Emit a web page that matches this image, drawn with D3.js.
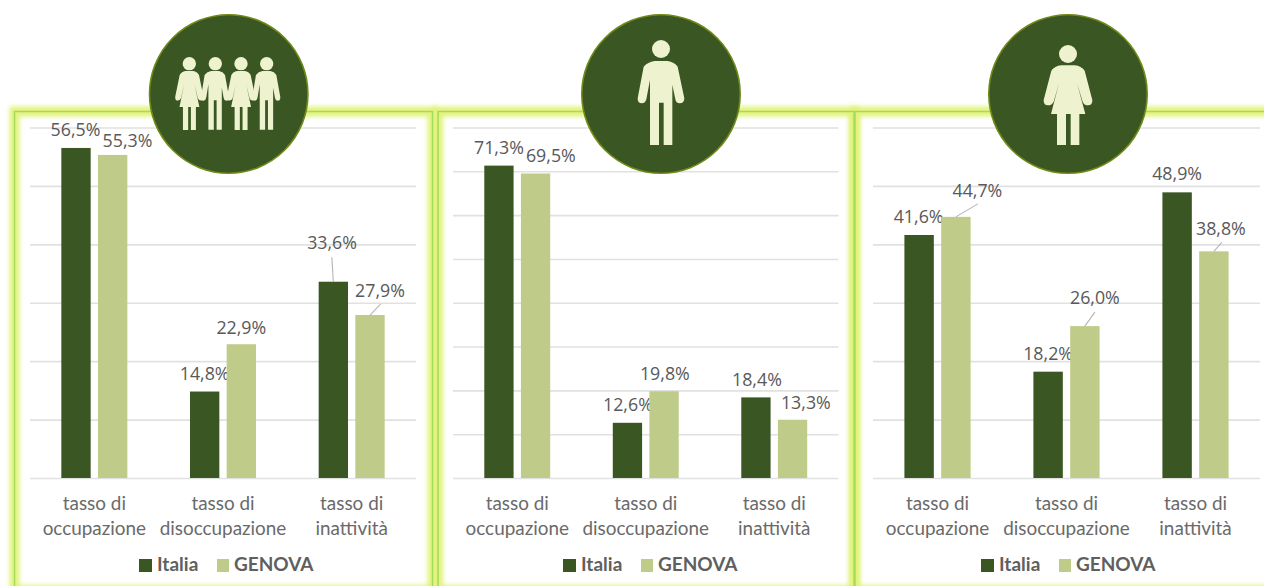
<!DOCTYPE html>
<html><head><meta charset="utf-8">
<script src="https://cdn.jsdelivr.net/npm/d3@7/dist/d3.min.js"></script>
<style>html,body{margin:0;padding:0;background:#fff;overflow:hidden}svg{display:block}</style>
</head><body><svg id="c" width="1264" height="586"></svg>
<script>
const categories = [["tasso di","occupazione"],["tasso di","disoccupazione"],["tasso di","inattività"]];
const seriesNames = ["Italia","GENOVA"];
const italiaTotale = [56.5,14.8,33.6], genovaTotale = [55.3,22.9,27.9];
const italiaMaschi = [71.3,12.6,18.4], genovaMaschi = [69.5,19.8,13.3];
const italiaFemmine = [41.6,18.2,48.9], genovaFemmine = [44.7,26.0,38.8];
const colors = ["#3a5623","#bfcb88"];

// layout only: label offsets from each bar's top centre, [dx,dy] per category per series
const panels = [
 {x0:30,x1:416,max:60,step:10,a:italiaTotale,b:genovaTotale,cx:228.7,icon:"group",legend:139,
  off:[[[-.5,-11.7],[14.8,-7.7]],[[0,-11.2],[0,-10.7]],[[-1.3,-32.4],[10,-18]]]},
 {x0:453,x1:838.5,max:80,step:10,a:italiaMaschi,b:genovaMaschi,cx:661,icon:"man",legend:563,
  off:[[[0,-12],[15.3,-11.7]],[[.5,-11.4],[.8,-11.7]],[[1,-11],[13.3,-10.4]]]},
 {x0:873,x1:1260,max:60,step:10,a:italiaFemmine,b:genovaFemmine,cx:1068,icon:"woman",legend:981,
  off:[[[-.5,-11.7],[21.5,-19.7]],[[0,-11.4],[10,-21.7]],[[0,-12],[7,-16.7]]]}
];
const leaders = [
 [[null,null],[null,null],[[-1.5,-24.5],[10.5,-11]]],
 [[null,null],[null,null],[null,null]],
 [[null,[22,-13]],[null,[10,-14]],[null,[8,-9]]]
];

const yTop=127.5, yBase=478;
const svg=d3.select("#c");
const defs=svg.append("defs");
defs.append("filter").attr("id","glow").attr("x","-5%").attr("y","-5%").attr("width","110%").attr("height","110%")
  .append("feGaussianBlur").attr("stdDeviation",2);

// frames
const frames=[[14.5,432.5],[438,854],[855,1290]];
const fy=111.5, fb=590;
frames.forEach(f=>{
  svg.append("rect").attr("x",f[0]).attr("y",fy).attr("width",f[1]-f[0]).attr("height",fb-fy)
    .attr("fill","none").attr("stroke","#e2f37c").attr("stroke-width",10).attr("filter","url(#glow)");
});
frames.forEach(f=>{
  svg.append("rect").attr("x",f[0]).attr("y",fy).attr("width",f[1]-f[0]).attr("height",fb-fy)
    .attr("fill","none").attr("stroke","#a3dc5c").attr("stroke-width",1.5);
});

const manBody="M283 183H322Q342 186 352 200L372 295Q372 310 358 310Q347 310 345 298L333 240L336 240V435H310V308H296V435H269V240L258 298Q255 310 245 310Q231 310 232 295L250 200Q262 186 283 183Z";
const womanBody="M308 196H348Q368 198 378 212L401 300Q402 316 388 316Q376 316 372 305L355 250L380 342H362V435H336V342H322V435H295V342H277L301 250L285 305Q280 316 268 316Q254 316 255 300L278 212Q288 198 308 196Z";
const iconFill="#eef2cf";

function drawCircle(p){
  const g=svg.append("g");
  g.append("circle").attr("cx",p.cx).attr("cy",94).attr("r",79.2).attr("fill","#3a5623").attr("stroke","#6f8a17").attr("stroke-width",1.6);
  const k=1/3;
  if(p.icon==="man"){
    const i=g.append("g").attr("transform",`translate(${p.cx},0) scale(${k}) translate(-302,0)`).attr("fill",iconFill);
    i.append("circle").attr("cx",302).attr("cy",147).attr("r",27);
    i.append("path").attr("d",manBody);
  } else if(p.icon==="woman"){
    const i=g.append("g").attr("transform",`translate(${p.cx},0) scale(${k}) translate(-328,0)`).attr("fill",iconFill);
    i.append("circle").attr("cx",328).attr("cy",162).attr("r",27);
    i.append("path").attr("d",womanBody);
  } else {
    const ox=[568,646,723,800];
    ox.forEach((x,j)=>{
      const i=g.append("g").attr("transform",`scale(${k})`).attr("fill",iconFill);
      i.append("circle").attr("cx",x).attr("cy",191).attr("r",20);
      if(j%2===0) i.append("path").attr("d",womanBody).attr("transform",`translate(${x},213) scale(.58,.74) translate(-328,-196)`);
      else i.append("path").attr("d",manBody).attr("transform",`translate(${x-1},213) scale(.6,.70) translate(-302,-183)`);
    });
  }
}

panels.forEach((p,pi)=>{
  const g=svg.append("g");
  const y=d3.scaleLinear().domain([0,p.max]).range([yBase,yTop]);
  const x=d3.scaleBand().domain(d3.range(categories.length)).range([p.x0,p.x1]).paddingInner(.487).paddingOuter(.2435);
  const x1=d3.scaleBand().domain(seriesNames).range([0,x.bandwidth()]).paddingInner(.2).paddingOuter(0);

  const axis=d3.axisLeft(y).tickValues(d3.range(0,p.max+1,p.step)).tickSize(-(p.x1-p.x0)).tickFormat("");
  const ag=g.append("g").attr("transform",`translate(${p.x0},0)`).call(axis);
  ag.select(".domain").remove();
  ag.selectAll("line").attr("stroke","#e1e1e1").attr("stroke-width",1.6);

  seriesNames.forEach((s,si)=>{
    const vals=si===0?p.a:p.b;
    g.append("g").selectAll("rect").data(vals).join("rect")
      .attr("x",(d,i)=>x(i)+x1(s)).attr("y",d=>y(d))
      .attr("width",x1.bandwidth()).attr("height",d=>yBase-y(d))
      .attr("fill",colors[si]);
    vals.forEach((d,i)=>{
      const bx=x(i)+x1(s)+x1.bandwidth()/2, by=y(d);
      const off=p.off[i][si];
      const l=leaders[pi][i][si];
      if(l) g.append("line").attr("x1",bx+l[0]).attr("y1",by+l[1]).attr("x2",bx).attr("y2",by)
        .attr("stroke","#b5b5b5").attr("stroke-width",1.1);
      g.append("text").attr("x",bx+off[0]).attr("y",by+off[1])
        .attr("text-anchor","middle").attr("font-family","'Open Sans'").attr("font-size",17.8)
        .attr("fill","#595959").text(d.toFixed(1).replace(".",",")+"%");
    });
  });

  categories.forEach((c,i)=>{
    c.forEach((t,li)=>{
      g.append("text").attr("x",x(i)+x.bandwidth()/2).attr("y",510+li*25)
        .attr("text-anchor","middle").attr("font-family","Lato").attr("font-size",18.9)
        .attr("fill","#6a6a6a").text(t);
    });
  });

  // legend
  const lx=[p.legend,p.legend+78];
  const tx=[p.legend+18,p.legend+95];
  seriesNames.forEach((s,si)=>{
    g.append("rect").attr("x",lx[si]).attr("y",559).attr("width",si?12:13).attr("height",13).attr("fill",colors[si]);
    g.append("text").attr("x",tx[si]).attr("y",571).attr("font-family","Lato").attr("font-weight",700)
      .attr("font-size",19).attr("fill","#5f5f5f").text(s);
  });
});
panels.forEach(drawCircle);
</script></body></html>
